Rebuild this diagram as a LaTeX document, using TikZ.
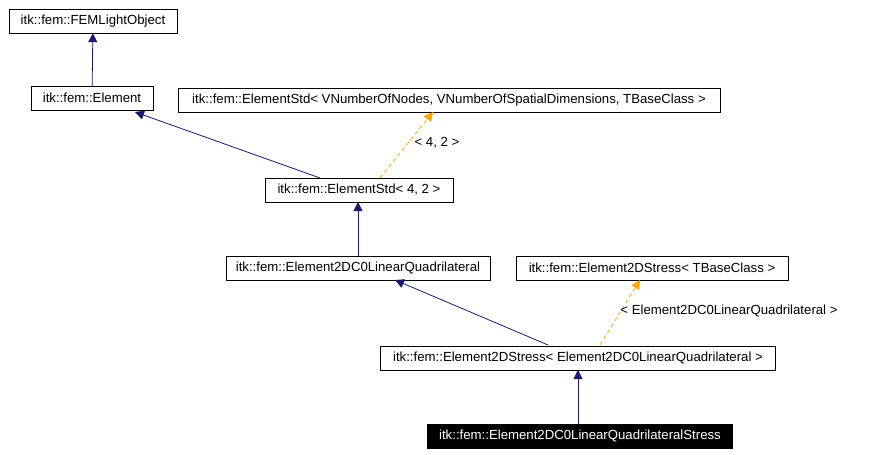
\documentclass[tikz,border=0pt]{standalone}
\usepackage{fontspec}
\setmainfont{Liberation Sans}
\usetikzlibrary{arrows.meta}
\definecolor{navy}{RGB}{25,25,112}
\definecolor{orng}{RGB}{255,165,0}
\begin{document}
\begin{tikzpicture}[x=1pt,y=-1pt,
  box/.style={draw=black,fill=white,inner sep=0pt,minimum height=24pt,font=\fontsize{13.2}{15}\selectfont},
  inh/.style={draw=navy,line width=0.8pt,-{Triangle[length=9pt,width=9pt,fill=navy]}},
  tmpl/.style={draw=orng,line width=0.8pt,dash pattern=on 4pt off 3pt,-{Triangle[length=9pt,width=9pt,fill=orng]}},
  lbl/.style={font=\fontsize{13.2}{15}\selectfont}]
\useasboundingbox (0,0) rectangle (879,455);
\node[box,minimum width=168pt] (fl) at (93,21) {itk::fem::FEMLightObject};
\node[box,minimum width=122pt] (el) at (92,98) {itk::fem::Element};
\node[box,minimum width=542pt] (est) at (449,100) {itk::fem::ElementStd< VNumberOfNodes, VNumberOfSpatialDimensions, TBaseClass >};
\node[box,minimum width=188pt] (e42) at (359,190) {itk::fem::ElementStd< 4, 2 >};
\node[box,minimum width=264pt] (q) at (358,268) {itk::fem::Element2DC0LinearQuadrilateral};
\node[box,minimum width=272pt] (st) at (652,268) {itk::fem::Element2DStress< TBaseClass >};
\node[box,minimum width=395pt] (sq) at (578,358) {itk::fem::Element2DStress< Element2DC0LinearQuadrilateral >};
\node[box,minimum width=305pt,fill=black,text=white] (ss) at (580,436) {itk::fem::Element2DC0LinearQuadrilateralStress};
\coordinate (a1) at (320,178); \coordinate (a2) at (135,112);
\coordinate (b1) at (380,178); \coordinate (b2) at (433,112);
\coordinate (c1) at (548,345); \coordinate (c2) at (395,280);
\coordinate (d1) at (600,345); \coordinate (d2) at (640,280);
\coordinate (e1) at (578,424); \coordinate (e2) at (578,370);
\coordinate (f1) at (358,256); \coordinate (f2) at (358,202);
\draw[inh] (el) -- (fl);
\draw[inh] (a1) -- (a2);
\draw[tmpl] (b1) -- (b2);
\node[lbl] (l1) at (437,143) {< 4, 2 >};
\draw[inh] (f1) -- (f2);
\draw[inh] (c1) -- (c2);
\draw[tmpl] (d1) -- (d2);
\node[lbl] (l2) at (729,311) {< Element2DC0LinearQuadrilateral >};
\draw[inh] (e1) -- (e2);
\end{tikzpicture}
\end{document}
